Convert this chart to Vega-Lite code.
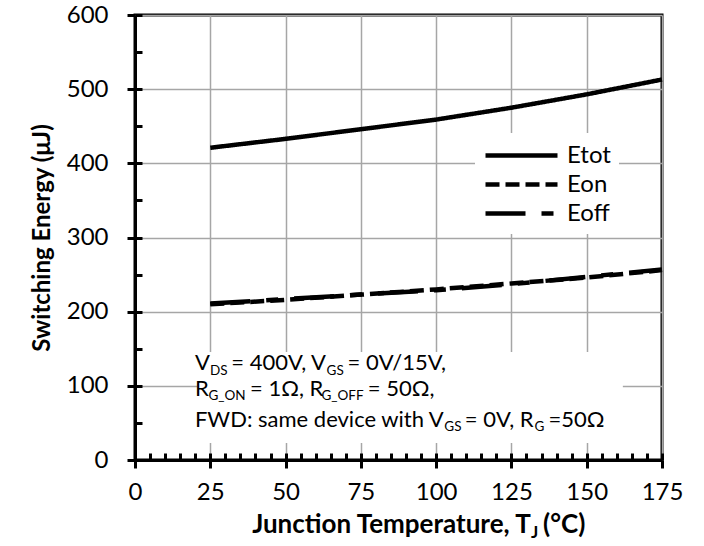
{
  "$schema": "https://vega.github.io/schema/vega-lite/v6.json",
  "width": 527,
  "height": 445,
  "autosize": {"type": "none"},
  "padding": {"left": 135, "top": 15, "right": 42, "bottom": 86},
  "background": "white",
  "config": {
    "view": {"stroke": "black", "strokeWidth": 3},
    "font": "Lato"
  },
  "datasets": {
    "curves": [
      {"T": 25, "S": "Etot", "E": 421},
      {"T": 50, "S": "Etot", "E": 433},
      {"T": 75, "S": "Etot", "E": 446},
      {"T": 100, "S": "Etot", "E": 459},
      {"T": 125, "S": "Etot", "E": 475},
      {"T": 150, "S": "Etot", "E": 493},
      {"T": 175, "S": "Etot", "E": 513},
      {"T": 25, "S": "Eon", "E": 210},
      {"T": 50, "S": "Eon", "E": 216},
      {"T": 75, "S": "Eon", "E": 223},
      {"T": 100, "S": "Eon", "E": 230},
      {"T": 125, "S": "Eon", "E": 238},
      {"T": 150, "S": "Eon", "E": 246},
      {"T": 175, "S": "Eon", "E": 256},
      {"T": 25, "S": "Eoff", "E": 211},
      {"T": 50, "S": "Eoff", "E": 217},
      {"T": 75, "S": "Eoff", "E": 223},
      {"T": 100, "S": "Eoff", "E": 229},
      {"T": 125, "S": "Eoff", "E": 237},
      {"T": 150, "S": "Eoff", "E": 247},
      {"T": 175, "S": "Eoff", "E": 257}
    ],
    "notes": [
      {"T": 19.9, "E": 121, "txt": "V", "k": "main"},
      {"T": 24.9, "E": 121, "txt": "DS", "k": "sub"},
      {"T": 32.0, "E": 121, "txt": "= 400V, V", "k": "main"},
      {"T": 63.6, "E": 121, "txt": "GS", "k": "sub"},
      {"T": 70.6, "E": 121, "txt": "= 0V/15V,", "k": "main"},
      {"T": 19.9, "E": 86.5, "txt": "R", "k": "main"},
      {"T": 24.4, "E": 86.5, "txt": "G_ON", "k": "sub"},
      {"T": 38.2, "E": 86.5, "txt": "= 1Ω, R", "k": "main"},
      {"T": 61.9, "E": 86.5, "txt": "G_OFF", "k": "sub"},
      {"T": 77.3, "E": 86.5, "txt": "= 50Ω,", "k": "main"},
      {"T": 19.9, "E": 44.5, "txt": "FWD: same device with V", "k": "main"},
      {"T": 102.7, "E": 44.5, "txt": "GS", "k": "sub"},
      {"T": 109.5, "E": 44.5, "txt": "= 0V, R", "k": "main"},
      {"T": 132.7, "E": 44.5, "txt": "G", "k": "sub"},
      {"T": 137.3, "E": 44.5, "txt": "=50Ω", "k": "main"}
    ],
    "xtitle": [
      {"T": 38.9, "E": -98.4, "txt": "Junction Temperature, T", "k": "main"},
      {"T": 131.5, "E": -98.4, "txt": "J", "k": "sub"},
      {"T": 135.5, "E": -98.4, "txt": "(°C)", "k": "main"}
    ],
    "notebox": [{"T": 20.6, "T2": 162, "E": 23, "E2": 145.6}]
  },
  "layer": [
    {
      "data": {"name": "notebox"},
      "mark": {"type": "rect", "fill": "white"},
      "encoding": {
        "x": {"field": "T", "type": "quantitative", "axis": null, "scale": {"domain": [0, 175], "nice": false}},
        "x2": {"field": "T2"},
        "y": {"field": "E", "type": "quantitative", "axis": null, "scale": {"domain": [0, 600], "nice": false}},
        "y2": {"field": "E2"}
      }
    },
    {
      "data": {"name": "curves"},
      "mark": {"type": "line", "strokeWidth": 4.5, "color": "black"},
      "encoding": {
        "x": {
          "field": "T", "type": "quantitative",
          "scale": {"domain": [0, 175], "nice": false},
          "axis": {
            "orient": "bottom",
            "values": [0, 25, 50, 75, 100, 125, 150, 175],
            "title": null,
            "grid": true, "gridColor": "#a6a6a6", "gridWidth": 1.5,
            "domainColor": "black", "domainWidth": 3,
            "tickColor": "black", "tickWidth": 3, "tickSize": 8,
            "labelFont": "Lato", "labelFontSize": 24, "labelColor": "black", "labelPadding": 12,
            "labelFlush": false
          }
        },
        "y": {
          "field": "E", "type": "quantitative",
          "scale": {"domain": [0, 600], "nice": false},
          "axis": {
            "orient": "left",
            "values": [0, 100, 200, 300, 400, 500, 600],
            "title": "Switching Energy (μJ)",
            "grid": true, "gridColor": "#a6a6a6", "gridWidth": 1.5,
            "domainColor": "black", "domainWidth": 3,
            "tickColor": "black", "tickWidth": 3, "tickSize": 8,
            "labelFont": "Lato", "labelFontSize": 24, "labelColor": "black", "labelPadding": 19,
            "labelFlush": false,
            "titleFont": "Lato", "titleFontSize": 24, "titleFontWeight": "bold", "titleColor": "black", "titlePadding": 12
          }
        },
        "strokeDash": {
          "field": "S", "type": "nominal",
          "scale": {"domain": ["Etot", "Eon", "Eoff"], "range": [[1, 0], [14, 6], [40, 16, 12, 16]]},
          "legend": {
            "orient": "none", "legendX": 340, "legendY": 118,
            "title": null, "fillColor": "white", "padding": 8,
            "symbolType": "M-1,0H5", "symbolSize": 576, "symbolStrokeWidth": 4.5, "symbolStrokeColor": "black",
            "symbolFillColor": "transparent",
            "labelFont": "Lato", "labelFontSize": 24, "labelColor": "black", "labelOffset": 55,
            "rowPadding": 2, "labelLimit": 300
          }
        }
      }
    },
    {
      "data": {"name": "curves"},
      "mark": {"type": "line", "opacity": 0},
      "encoding": {
        "x": {
          "field": "T", "type": "quantitative",
          "axis": {
            "orient": "bottom",
            "values": [0, 5, 10, 15, 20, 25, 30, 35, 40, 45, 50, 55, 60, 65, 70, 75, 80, 85, 90, 95, 100, 105, 110, 115, 120, 125, 130, 135, 140, 145, 150, 155, 160, 165, 170, 175],
            "tickSize": -7, "tickColor": "black", "tickWidth": 3,
            "labels": false, "domain": false, "grid": false, "title": null
          }
        },
        "y": {
          "field": "E", "type": "quantitative",
          "axis": {
            "orient": "left",
            "values": [0, 50, 100, 150, 200, 250, 300, 350, 400, 450, 500, 550, 600],
            "tickSize": -7, "tickColor": "black", "tickWidth": 3,
            "labels": false, "domain": false, "grid": false, "title": null
          }
        }
      }
    },
    {
      "data": {"name": "notes"},
      "transform": [{"filter": "datum.k === 'main'"}],
      "mark": {"type": "text", "align": "left", "baseline": "alphabetic", "font": "Lato", "fontSize": 22, "color": "black"},
      "encoding": {
        "x": {"field": "T", "type": "quantitative", "axis": null},
        "y": {"field": "E", "type": "quantitative", "axis": null},
        "text": {"field": "txt"}
      }
    },
    {
      "data": {"name": "notes"},
      "transform": [{"filter": "datum.k === 'sub'"}],
      "mark": {"type": "text", "align": "left", "baseline": "alphabetic", "font": "Lato", "fontSize": 13.5, "dy": 4.5, "color": "black"},
      "encoding": {
        "x": {"field": "T", "type": "quantitative", "axis": null},
        "y": {"field": "E", "type": "quantitative", "axis": null},
        "text": {"field": "txt"}
      }
    },
    {
      "data": {"name": "xtitle"},
      "transform": [{"filter": "datum.k === 'main'"}],
      "mark": {"type": "text", "align": "left", "baseline": "alphabetic", "font": "Lato", "fontSize": 26, "fontWeight": "bold", "color": "black"},
      "encoding": {
        "x": {"field": "T", "type": "quantitative", "axis": null},
        "y": {"field": "E", "type": "quantitative", "axis": null},
        "text": {"field": "txt"}
      }
    },
    {
      "data": {"name": "xtitle"},
      "transform": [{"filter": "datum.k === 'sub'"}],
      "mark": {"type": "text", "align": "left", "baseline": "alphabetic", "font": "Lato", "fontSize": 17, "fontWeight": "bold", "dy": 5, "color": "black"},
      "encoding": {
        "x": {"field": "T", "type": "quantitative", "axis": null},
        "y": {"field": "E", "type": "quantitative", "axis": null},
        "text": {"field": "txt"}
      }
    }
  ],
  "resolve": {"axis": {"x": "independent", "y": "independent"}}
}
